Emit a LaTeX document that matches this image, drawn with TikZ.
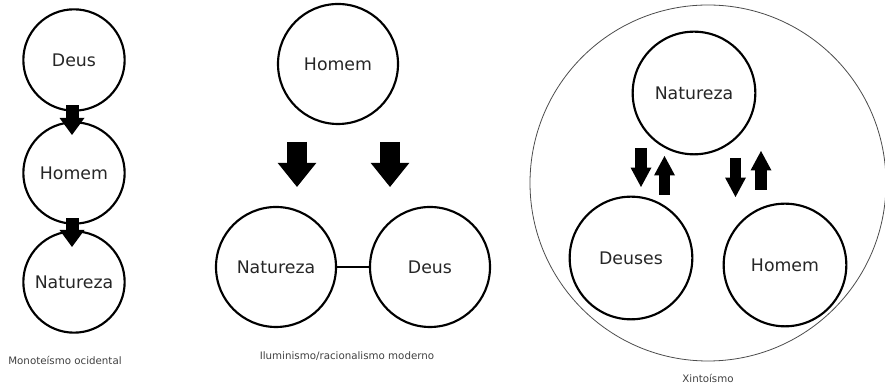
\documentclass[tikz,border=0pt]{standalone}
\usepackage{fontspec}
\setmainfont{DejaVu Sans}
\usetikzlibrary{arrows.meta,positioning,calc}

\begin{document}
\begin{tikzpicture}
[x=0.75pt,y=0.75pt, line width=1.6pt,
ball/.style={circle,draw,minimum size=#1,inner sep=0pt,
  text=black!85,font=\fontsize{13}{15}\selectfont},
fat/.style n args={3}{line width=#1,
  -{Triangle[width=#2,length=#3,line width=0pt]}},
legenda/.style={text=black!75,font=\fontsize{7.7}{9}\selectfont}]
\useasboundingbox (0,0) rectangle (885,384);

% monoteismo
\node (deus1) at (74,324)[ball=76pt] {Deus};
\node (homem1) at (74,211)[ball=76pt] {Homem};
\node (nat1) at (74,102)[ball=76pt] {Natureza};
\node (leg1) at (65,24)[legenda] {Monoteísmo ocidental};

\draw[fat={9.75pt}{18.75pt}{12.75pt}] ($(deus1.south)+(-2,6.7)$) -- ($(homem1.north)+(-2,-13.7)$);
\draw[fat={9.75pt}{18.75pt}{12.75pt}] ($(homem1.south)+(-2,6.7)$) -- ($(nat1.north)+(-2,-16.7)$);

% iluminismo
\node (homem2) at (338,320)[ball=90pt] {Homem};
\node (nat2) at (276,117)[ball=90pt] {Natureza};
\node (deus2) at (430,117)[ball=90pt] {Deus};
\node (leg2) at (347,28)[legenda] {Iluminismo/racionalismo moderno};

\draw (nat2) -- (deus2);
\draw[fat={15pt}{29pt}{18pt}] ($(nat2.north)+(21,64)$) -- ($(nat2.north)+(21,19)$);
\draw[fat={15pt}{29pt}{18pt}] ($(deus2.north)+(-40,64)$) -- ($(deus2.north)+(-40,19)$);

% xintoismo
\node (world) at (708,201)[circle,draw=black!70,line width=0.6pt,minimum size=267pt] {};
\node (nat3) at (694,291)[ball=92pt] {Natureza};
\node (deuses3) at (631,126)[ball=92pt] {Deuses};
\node (homem3) at (785,119)[ball=92pt] {Homem};
\node (leg3) at (708,6)[legenda] {Xintoísmo};

\draw[fat={8.6pt}{15.75pt}{14.6pt}] ($(nat3.south)+(-53,7.4)$) -- ($(nat3.south)+(-53,-31.6)$);
\draw[fat={8.6pt}{15.75pt}{14.6pt}] ($(deuses3.north)+(33.5,0.6)$) -- ($(deuses3.north)+(33.5,39.6)$);
\draw[fat={8.6pt}{15.75pt}{14.6pt}] ($(nat3.south)+(41.5,-2.6)$) -- ($(nat3.south)+(41.5,-41.6)$);
\draw[fat={8.6pt}{15.75pt}{14.6pt}] ($(homem3.north)+(-24,12.6)$) -- ($(homem3.north)+(-24,51.6)$);
\end{tikzpicture}
\end{document}
